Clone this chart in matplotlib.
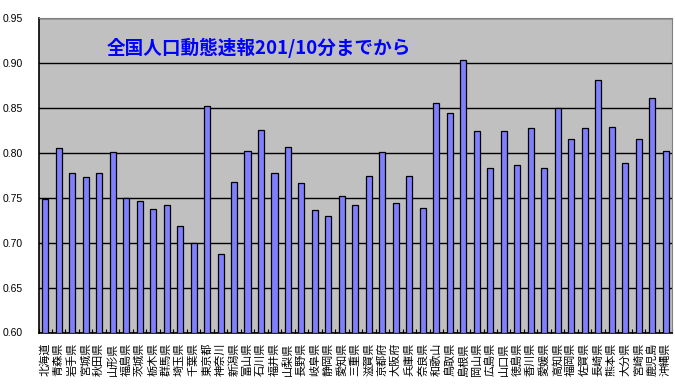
import matplotlib.pyplot as plt
import numpy as np

plt.rcParams['font.family'] = ['Noto Sans CJK JP', 'DejaVu Sans']

prefectures = ['北海道', '青森県', '岩手県', '宮城県', '秋田県', '山形県', '福島県',
               '茨城県', '栃木県', '群馬県', '埼玉県', '千葉県', '東京都', '神奈川',
               '新潟県', '富山県', '石川県', '福井県', '山梨県', '長野県', '岐阜県',
               '静岡県', '愛知県', '三重県', '滋賀県', '京都府', '大阪府', '兵庫県',
               '奈良県', '和歌山', '鳥取県', '島根県', '岡山県', '広島県', '山口県',
               '徳島県', '香川県', '愛媛県', '高知県', '福岡県', '佐賀県', '長崎県',
               '熊本県', '大分県', '宮崎県', '鹿児島', '沖縄県']
values = [0.749, 0.806, 0.778, 0.773, 0.778, 0.801, 0.750,
          0.747, 0.738, 0.742, 0.719, 0.700, 0.852, 0.688,
          0.768, 0.802, 0.826, 0.778, 0.807, 0.767, 0.737,
          0.730, 0.752, 0.742, 0.774, 0.801, 0.744, 0.774,
          0.739, 0.856, 0.845, 0.904, 0.824, 0.783, 0.824,
          0.787, 0.828, 0.783, 0.850, 0.816, 0.828, 0.881,
          0.829, 0.789, 0.816, 0.861, 0.802]
yticks = [0.60, 0.65, 0.70, 0.75, 0.80, 0.85, 0.90, 0.95]
title = '全国人口動態速報201/10分までから'

fig = plt.figure(figsize=(6.75, 3.89), dpi=100)
ax = fig.add_axes([38.5 / 675, 1 - 332.5 / 389, (672.3 - 38.5) / 675, (332.5 - 18.3) / 389])
ax.set_facecolor('#C0C0C0')

x = np.arange(len(prefectures))
ax.bar(x, np.array(values) - 0.60, bottom=0.60, width=0.45,
       color='#8080FF', edgecolor='black', linewidth=0.9, zorder=3)

ax.set_xlim(-0.5, len(prefectures) - 0.5)
ax.set_ylim(0.60, 0.95)
ax.set_yticks(yticks)
ax.set_yticklabels(['%.2f' % v for v in yticks], fontsize=7.5, family='Liberation Sans')
ax.yaxis.grid(True, color='black', linewidth=1, zorder=1)
ax.tick_params(axis='y', length=0, pad=11)

ax.set_xticks(x)
ax.set_xticklabels(prefectures, rotation=90, fontsize=8)
ax.set_xticks(np.arange(len(prefectures) + 1) - 0.5, minor=True)
ax.tick_params(axis='x', which='major', length=0, pad=7)
ax.tick_params(axis='x', which='minor', direction='in', length=3, width=0.8)

for side in ['top', 'right']:
    ax.spines[side].set_color('#808080')
for side in ['left', 'bottom']:
    ax.spines[side].set_color('black')
    ax.spines[side].set_linewidth(1.2)

ax.text(0.108, 0.905, title, transform=ax.transAxes, color='#0000FF',
        fontsize=13.4, fontweight='bold', va='center', ha='left')

fig.savefig('out.png', dpi=100)
